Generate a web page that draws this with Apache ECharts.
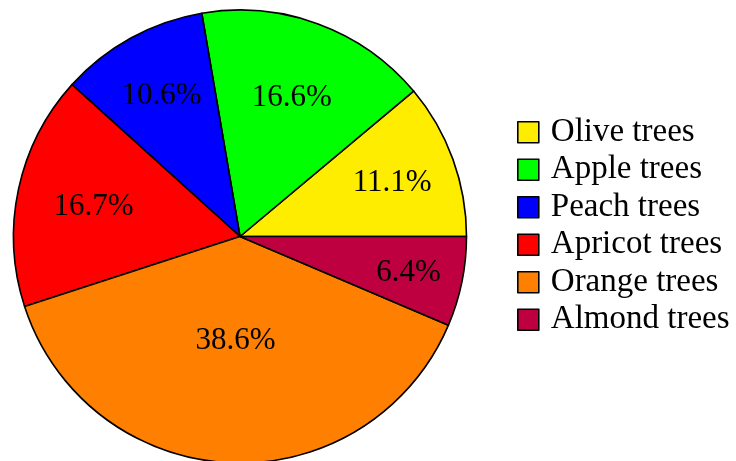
<!DOCTYPE html>
<html>
<head>
<meta charset="utf-8">
<script src="https://cdn.jsdelivr.net/npm/echarts@6/dist/echarts.min.js"></script>
<style>html,body{margin:0;padding:0;background:#fff}#c{width:736px;height:461px}</style>
</head>
<body>
<div id="c"></div>
<script>
const categories = ['Olive trees', 'Apple trees', 'Peach trees', 'Apricot trees', 'Orange trees', 'Almond trees'];
const values = [11.1, 16.6, 10.6, 16.7, 38.6, 6.4];
const colors = ['#FFED00', '#00FF00', '#0000FF', '#FF0000', '#FF8000', '#BF0040'];

const CX = 240, CY = 236.5, R = 226.5;
const FONT = 'Liberation Serif';
const total = values.reduce((a, b) => a + b, 0);
// mid-angle of each slice (counterclockwise from east), in degrees
const mids = [];
let acc = 0;
values.forEach(v => { mids.push((acc + v / 2) / total * 360); acc += v; });

const chart = echarts.init(document.getElementById('c'), null, {renderer: 'canvas'});
chart.setOption({
  animation: false,
  legend: {
    orient: 'vertical',
    left: 517,
    top: 115.7,
    padding: 0,
    itemWidth: 21,
    itemHeight: 21,
    itemGap: 4.5,
    icon: 'rect',
    data: categories,
    itemStyle: {borderColor: '#000', borderWidth: 1.6},
    textStyle: {fontFamily: FONT, fontSize: 33, color: '#000', padding: [0, 0, 0, 7]},
    selectedMode: false
  },
  series: [{
    type: 'pie',
    center: [CX, CY],
    radius: [0, R],
    startAngle: 0,
    clockwise: false,
    avoidLabelOverlap: false,
    itemStyle: {borderColor: '#000', borderWidth: 1.6},
    label: {
      show: true,
      position: 'inside',
      fontFamily: FONT,
      fontSize: 31,
      color: '#000',
      formatter: p => p.value.toFixed(1) + '%'
    },
    labelLine: {show: false},
    emphasis: {disabled: true},
    labelLayout: function (params) {
      const i = params.dataIndex;
      const ratio = 0.82 - 0.0095 * values[i];
      const a = mids[i] * Math.PI / 180;
      return {x: CX + Math.cos(a) * R * ratio, y: CY - Math.sin(a) * R * ratio + 2, align: 'center', verticalAlign: 'middle'};
    },
    data: categories.map((c, i) => ({name: c, value: values[i], itemStyle: {color: colors[i]}}))
  }]
});
</script>
</body>
</html>
